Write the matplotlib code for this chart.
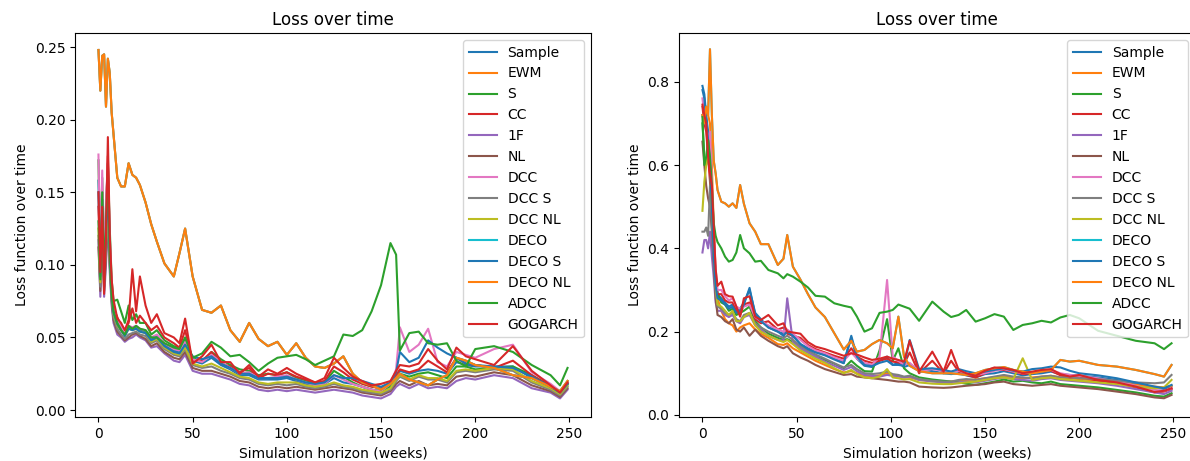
import matplotlib
matplotlib.use("Agg")
import matplotlib.pyplot as plt

OUT_FILE = "out.png"

MODELS = [
    "Sample", "EWM", "S", "CC", "1F", "NL", "DCC",
    "DCC S", "DCC NL", "DECO", "DECO S", "DECO NL", "ADCC", "GOGARCH",
]

# -------------------------------
# Left panel (weeks 0..249, sampled)
# -------------------------------
WEEKS_L = [
    0, 1, 2, 3, 4, 5, 6, 7, 8, 10,
    12, 14, 16, 18, 20, 22, 25, 28, 31, 35,
    40, 43, 46, 50, 55, 60, 65, 70, 75, 80,
    85, 90, 95, 100, 105, 110, 115, 120, 125, 130,
    135, 140, 145, 150, 155, 158, 160, 165, 170, 175,
    180, 185, 190, 195, 200, 210, 220, 230, 240, 245,
    249,
]

# EWM / DECO / DECO NL sit on the same upper curve
L_TOP = [
    .248, .220, .244, .245, .209, .242, .232, .205, .190, .160,
    .154, .154, .170, .162, .160, .155, .143, .128, .116, .101,
    .092, .108, .125, .092, .069, .067, .072, .055, .047, .060,
    .049, .044, .047, .038, .046, .036, .030, .029, .032, .037,
    .025, .019, .017, .014, .018, .022, .025, .021, .019, .017,
    .021, .024, .036, .034, .031, .029, .024, .022, .016, .013,
    .020,
]
L_SAMPLE = [
    .158, .095, .150, .090, .125, .160, .110, .082, .068, .060,
    .056, .052, .057, .056, .057, .055, .054, .049, .051, .045,
    .041, .040, .046, .034, .032, .036, .031, .028, .024, .024,
    .021, .021, .021, .022, .020, .018, .017, .018, .022, .019,
    .018, .016, .014, .013, .017, .023, .027, .025, .027, .028,
    .027, .025, .033, .031, .030, .030, .030, .022, .016, .012,
    .018,
]
L_S = [
    .172, .100, .160, .095, .140, .170, .125, .090, .075, .076,
    .068, .060, .072, .062, .066, .060, .060, .052, .055, .048,
    .044, .043, .048, .036, .033, .040, .035, .031, .028, .027,
    .024, .025, .024, .026, .022, .020, .018, .019, .027, .023,
    .019, .016, .014, .013, .016, .021, .025, .023, .025, .026,
    .024, .022, .030, .030, .028, .029, .030, .024, .017, .012,
    .018,
]
L_CC = [
    .140, .090, .150, .085, .130, .175, .115, .085, .070, .064,
    .058, .054, .060, .070, .060, .065, .060, .055, .058, .050,
    .046, .043, .055, .034, .034, .040, .032, .030, .026, .029,
    .022, .025, .024, .026, .023, .021, .019, .020, .030, .026,
    .021, .018, .016, .015, .018, .024, .028, .026, .028, .034,
    .030, .026, .036, .032, .031, .029, .034, .024, .016, .012,
    .018,
]
L_1F = [
    .117, .078, .125, .078, .100, .130, .095, .072, .060, .052,
    .050, .047, .049, .050, .052, .050, .048, .043, .044, .039,
    .034, .033, .038, .027, .025, .025, .023, .021, .018, .017,
    .014, .013, .014, .013, .014, .013, .012, .013, .014, .013,
    .012, .010, .009, .008, .011, .016, .018, .015, .018, .015,
    .016, .015, .020, .022, .021, .024, .022, .015, .012, .008,
    .014,
]
L_NL = [
    .112, .082, .128, .082, .105, .135, .100, .075, .062, .054,
    .051, .048, .050, .052, .053, .051, .049, .044, .046, .040,
    .036, .035, .040, .029, .027, .027, .025, .023, .020, .019,
    .016, .015, .016, .015, .016, .015, .014, .015, .016, .015,
    .014, .012, .011, .010, .013, .018, .020, .017, .020, .017,
    .018, .017, .023, .024, .023, .026, .024, .017, .013, .009,
    .015,
]
L_DCC = [
    .176, .100, .165, .095, .145, .170, .120, .085, .070, .062,
    .058, .053, .058, .057, .058, .056, .055, .050, .052, .046,
    .042, .041, .047, .035, .033, .038, .033, .029, .025, .026,
    .022, .022, .023, .024, .021, .019, .017, .018, .024, .021,
    .018, .016, .014, .013, .018, .028, .057, .040, .045, .056,
    .033, .030, .040, .038, .036, .042, .045, .026, .018, .013,
    .019,
]
L_DCC_S = [
    .120, .085, .130, .085, .110, .140, .100, .078, .064, .056,
    .052, .049, .052, .053, .054, .052, .051, .046, .048, .042,
    .038, .037, .042, .031, .029, .030, .027, .025, .022, .021,
    .018, .017, .018, .017, .018, .016, .015, .016, .018, .016,
    .015, .013, .012, .011, .014, .020, .023, .020, .023, .021,
    .021, .019, .026, .027, .026, .028, .027, .019, .014, .010,
    .016,
]
L_DCC_NL = [
    .125, .088, .135, .090, .115, .150, .105, .080, .066, .058,
    .055, .051, .056, .055, .056, .054, .053, .047, .049, .043,
    .039, .038, .043, .032, .030, .032, .029, .026, .023, .022,
    .019, .018, .019, .019, .019, .017, .016, .017, .019, .017,
    .016, .014, .013, .012, .015, .021, .024, .021, .024, .022,
    .022, .020, .027, .028, .027, .029, .028, .020, .015, .011,
    .017,
]
L_DECO_S = [
    .150, .092, .145, .088, .120, .155, .108, .080, .067, .059,
    .055, .051, .056, .055, .056, .054, .053, .048, .050, .044,
    .040, .039, .045, .037, .035, .037, .032, .029, .025, .025,
    .022, .022, .022, .023, .021, .019, .018, .019, .024, .022,
    .022, .020, .018, .016, .019, .026, .040, .033, .036, .048,
    .043, .039, .036, .032, .031, .030, .029, .023, .016, .012,
    .018,
]
L_ADCC = [
    .130, .090, .150, .090, .130, .165, .110, .080, .068, .060,
    .055, .052, .058, .056, .058, .056, .055, .050, .050, .046,
    .043, .042, .050, .036, .039, .047, .043, .037, .038, .033,
    .027, .032, .036, .037, .038, .035, .031, .034, .037, .052,
    .051, .055, .068, .086, .115, .107, .041, .053, .054, .046,
    .045, .046, .034, .030, .042, .044, .040, .031, .024, .017,
    .029,
]
L_GOGARCH = [
    .150, .095, .140, .080, .120, .188, .120, .090, .076, .063,
    .060, .055, .062, .097, .068, .092, .072, .060, .066, .053,
    .050, .046, .063, .032, .037, .045, .033, .033, .025, .031,
    .023, .028, .025, .029, .025, .022, .019, .022, .036, .029,
    .023, .020, .017, .018, .020, .027, .031, .030, .032, .042,
    .034, .028, .043, .037, .035, .031, .044, .027, .017, .012,
    .019,
]

# -------------------------------
# Right panel
# -------------------------------
WEEKS_R = [
    0, 1, 2, 3, 4, 5, 6, 7, 8, 10,
    12, 14, 16, 18, 20, 22, 25, 28, 31, 35,
    40, 43, 45, 48, 52, 56, 60, 65, 70, 75,
    79, 82, 86, 90, 94, 98, 101, 104, 107, 110,
    115, 122, 128, 132, 136, 140, 145, 150, 155, 160,
    165, 170, 175, 180, 185, 190, 195, 200, 210, 220,
    230, 240, 245, 249,
]

# DECO / DECO NL upper curve
R_TOP = [
    .720, .700, .740, .720, .878, .720, .610, .580, .540, .512,
    .508, .500, .508, .497, .552, .507, .460, .440, .410, .410,
    .360, .375, .432, .356, .325, .290, .258, .235, .196, .157,
    .178, .152, .156, .170, .180, .172, .160, .236, .140, .118,
    .105, .100, .100, .100, .098, .096, .100, .108, .112, .115,
    .108, .104, .100, .104, .108, .132, .128, .130, .120, .116,
    .108, .098, .092, .120,
]
R_EWM = [
    .720, .700, .740, .720, .700, .600, .450, .340, .280, .250,
    .230, .220, .215, .200, .210, .215, .220, .205, .195, .185,
    .170, .168, .172, .160, .150, .140, .130, .120, .110, .102,
    .105, .100, .095, .093, .095, .100, .096, .094, .090, .090,
    .084, .082, .080, .080, .082, .084, .085, .088, .090, .092,
    .090, .088, .090, .092, .094, .090, .088, .086, .082, .078,
    .072, .068, .066, .070,
]
R_SAMPLE = [
    .790, .770, .720, .680, .620, .520, .400, .320, .290, .280,
    .270, .260, .265, .245, .255, .270, .300, .245, .230, .210,
    .200, .195, .200, .190, .170, .160, .152, .145, .135, .125,
    .185, .135, .118, .115, .130, .140, .120, .125, .115, .120,
    .110, .105, .100, .098, .100, .095, .090, .098, .100, .105,
    .100, .095, .098, .100, .104, .098, .096, .094, .090, .084,
    .075, .066, .062, .070,
]
R_S = [
    .700, .620, .600, .620, .600, .520, .420, .330, .290, .270,
    .265, .250, .255, .240, .245, .250, .260, .225, .210, .195,
    .185, .180, .182, .175, .160, .150, .140, .132, .123, .112,
    .130, .118, .105, .104, .155, .230, .130, .160, .112, .100,
    .090, .085, .082, .080, .078, .075, .072, .076, .080, .085,
    .080, .082, .078, .076, .080, .074, .072, .070, .066, .060,
    .054, .046, .044, .052,
]
R_CC = [
    .740, .700, .680, .620, .560, .500, .420, .330, .290, .290,
    .275, .270, .270, .250, .240, .265, .270, .230, .220, .225,
    .205, .210, .195, .190, .185, .168, .158, .150, .142, .135,
    .160, .140, .130, .125, .130, .135, .128, .126, .122, .150,
    .100, .130, .100, .130, .104, .096, .090, .100, .108, .108,
    .104, .098, .100, .104, .106, .095, .090, .092, .082, .076,
    .066, .054, .056, .062,
]
R_1F = [
    .390, .420, .420, .400, .440, .380, .330, .270, .250, .250,
    .240, .235, .240, .225, .220, .235, .240, .215, .205, .190,
    .180, .178, .280, .175, .160, .150, .140, .128, .118, .108,
    .115, .105, .096, .094, .092, .096, .094, .092, .090, .092,
    .084, .080, .078, .076, .078, .080, .078, .082, .086, .090,
    .086, .084, .082, .086, .088, .084, .082, .080, .076, .070,
    .062, .054, .050, .058,
]
R_NL = [
    .656, .600, .550, .520, .500, .440, .360, .280, .240, .235,
    .225, .220, .230, .205, .200, .210, .190, .205, .190, .178,
    .165, .160, .165, .148, .138, .130, .120, .110, .103, .096,
    .098, .092, .090, .088, .086, .084, .082, .080, .080, .078,
    .068, .066, .065, .066, .068, .070, .072, .074, .078, .080,
    .074, .072, .070, .072, .074, .070, .068, .066, .062, .056,
    .050, .042, .040, .048,
]
R_DCC = [
    .760, .720, .700, .660, .680, .560, .440, .350, .300, .300,
    .285, .275, .280, .260, .255, .260, .265, .235, .225, .215,
    .205, .200, .205, .195, .180, .165, .155, .148, .138, .130,
    .150, .135, .125, .120, .140, .324, .140, .130, .120, .125,
    .105, .110, .106, .104, .106, .100, .096, .100, .106, .110,
    .104, .100, .102, .106, .108, .100, .096, .094, .088, .080,
    .070, .060, .058, .064,
]
R_DCC_S = [
    .440, .440, .450, .430, .550, .450, .380, .300, .260, .255,
    .245, .240, .245, .230, .225, .240, .245, .220, .210, .200,
    .190, .185, .190, .180, .165, .155, .145, .135, .124, .114,
    .120, .110, .100, .098, .100, .104, .098, .096, .092, .094,
    .086, .082, .080, .080, .084, .086, .084, .088, .092, .096,
    .092, .090, .088, .092, .094, .090, .090, .088, .086, .082,
    .078, .076, .078, .096,
]
R_DCC_NL = [
    .490, .560, .600, .640, .600, .500, .400, .310, .265, .260,
    .250, .240, .250, .225, .225, .235, .245, .215, .200, .190,
    .180, .175, .180, .170, .155, .145, .135, .125, .112, .100,
    .108, .098, .090, .088, .092, .110, .090, .088, .085, .086,
    .078, .075, .074, .074, .076, .078, .080, .084, .088, .090,
    .086, .136, .084, .088, .090, .086, .084, .082, .078, .074,
    .068, .064, .066, .084,
]
R_DECO_S = [
    .780, .760, .710, .660, .600, .500, .380, .310, .280, .275,
    .265, .255, .260, .245, .250, .265, .305, .240, .225, .210,
    .200, .190, .200, .190, .170, .158, .150, .143, .133, .124,
    .190, .140, .120, .117, .125, .130, .120, .120, .118, .180,
    .110, .112, .108, .104, .110, .105, .100, .104, .108, .112,
    .106, .104, .110, .112, .116, .114, .106, .100, .095, .088,
    .078, .068, .064, .072,
]
R_ADCC = [
    .715, .600, .620, .660, .620, .550, .460, .430, .415, .400,
    .380, .368, .372, .390, .432, .400, .388, .368, .370, .348,
    .340, .328, .338, .332, .320, .306, .286, .284, .268, .262,
    .258, .236, .200, .208, .245, .248, .252, .265, .260, .255,
    .226, .272, .248, .235, .240, .252, .224, .232, .242, .236,
    .204, .216, .220, .226, .222, .234, .240, .232, .202, .190,
    .178, .172, .158, .172,
]
R_GOGARCH = [
    .745, .720, .700, .620, .580, .550, .450, .350, .310, .320,
    .290, .285, .284, .260, .236, .280, .285, .236, .228, .240,
    .215, .220, .200, .198, .195, .175, .164, .158, .150, .142,
    .148, .145, .138, .132, .135, .140, .135, .132, .128, .178,
    .104, .152, .104, .156, .108, .100, .094, .106, .114, .112,
    .108, .100, .104, .108, .110, .098, .092, .096, .084, .078,
    .068, .055, .058, .064,
]

LEFT_SERIES = [
    L_SAMPLE, L_TOP, L_S, L_CC, L_1F, L_NL, L_DCC,
    L_DCC_S, L_DCC_NL, L_TOP, L_DECO_S, L_TOP, L_ADCC, L_GOGARCH,
]
RIGHT_SERIES = [
    R_SAMPLE, R_EWM, R_S, R_CC, R_1F, R_NL, R_DCC,
    R_DCC_S, R_DCC_NL, R_TOP, R_DECO_S, R_TOP, R_ADCC, R_GOGARCH,
]


def draw_panel(ax, weeks, series, ylim):
    for name, values in zip(MODELS, series):
        assert len(values) == len(weeks), name
        ax.plot(weeks, values, label=name)

    ax.set_title("Loss over time")
    ax.set_xlabel("Simulation horizon (weeks)")
    ax.set_ylabel("Loss function over time")
    ax.set_xlim(-12.45, 261.45)
    ax.set_ylim(*ylim)
    ax.legend(loc="upper right")


def main():
    fig = plt.figure(figsize=(11.9, 4.61), dpi=100)

    ax_left = fig.add_axes([75 / 1190, 44 / 461, 516 / 1190, 384 / 461])
    ax_right = fig.add_axes([679 / 1190, 44 / 461, 516 / 1190, 384 / 461])

    draw_panel(ax_left, WEEKS_L, LEFT_SERIES, (-0.0048, 0.2597))
    draw_panel(ax_right, WEEKS_R, RIGHT_SERIES, (-0.005, 0.917))

    fig.savefig(OUT_FILE, dpi=100)
    plt.close(fig)


if __name__ == "__main__":
    main()
